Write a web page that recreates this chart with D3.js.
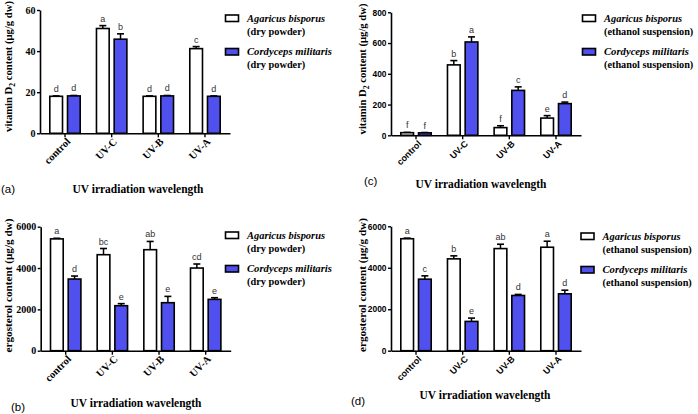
<!DOCTYPE html>
<html><head><meta charset="utf-8">
<script src="https://cdn.jsdelivr.net/npm/d3@7"></script>
<style>body{margin:0;background:#fff}svg{display:block}</style>
</head><body>
<script>
const categories = ["control", "UV-C", "UV-B", "UV-A"];
const seriesNames = ["Agaricus bisporus", "Cordyceps militaris"];

// (a) vitamin D2, dry powder
const vitDDryAgaricus = [18, 51, 18, 41.2];
const vitDDryAgaricusErr = [0.2, 1.4, 0.2, 1.0];
const vitDDryCordyceps = [18.2, 45.8, 18.2, 18];
const vitDDryCordycepsErr = [0.2, 2.6, 0.2, 0.2];
const vitDDryLetters = [["d", "a", "d", "c"], ["d", "b", "d", "d"]];

// (c) vitamin D2, ethanol suspension
const vitDEthAgaricus = [17, 458, 50, 112];
const vitDEthAgaricusErr = [2, 28, 12, 16];
const vitDEthCordyceps = [16, 607, 292, 206];
const vitDEthCordycepsErr = [2, 33, 23, 10];
const vitDEthLetters = [["f", "b", "f", "e"], ["f", "a", "c", "d"]];

// (b) ergosterol, dry powder
const ergDryAgaricus = [5410, 4645, 4887, 4000];
const ergDryAgaricusErr = [30, 300, 400, 195];
const ergDryCordyceps = [3468, 2177, 2323, 2484];
const ergDryCordycepsErr = [145, 100, 305, 80];
const ergDryLetters = [["a", "bc", "ab", "cd"], ["d", "e", "e", "e"]];

// (d) ergosterol, ethanol suspension
const ergEthAgaricus = [5400, 4430, 4925, 4990];
const ergEthAgaricusErr = [30, 145, 210, 290];
const ergEthCordyceps = [3450, 1412, 2663, 2743];
const ergEthCordycepsErr = [160, 160, 50, 175];
const ergEthLetters = [["a", "b", "ab", "a"], ["c", "e", "d", "d"]];

const vitDTicks = [0, 20, 40, 60];
const vitDEthTicks = [0, 200, 400, 600, 800];
const ergTicks = [0, 2000, 4000, 6000];

const SERIF = "'Liberation Serif','Times New Roman',serif";
const SANS = "'Liberation Sans',Arial,sans-serif";
const BLUE = "#5050ee";

const svg = d3.select("body").append("svg").attr("width", 698).attr("height", 414);

// scale a text's font size so that it spans the given width
function fit(sel, target) {
  const n = sel.node();
  const w = n.getComputedTextLength();
  const fs = parseFloat(sel.attr("font-size"));
  if (w > 0) sel.attr("font-size", (fs * target / w).toFixed(2));
  return sel;
}

function panel(o) {
  const g = svg.append("g");
  const x = d3.scaleBand().domain(categories).range([o.ox, o.ox + 190]).paddingInner(0).paddingOuter(0.036);
  const inner = d3.scaleBand().domain(seriesNames).range([-15.2, 15.2]).paddingInner(0.2825).paddingOuter(0);
  const y = d3.scaleLinear().domain([0, o.max]).range([o.y0, o.y1]);
  const tickFont = o.sansTicks ? SANS : SERIF;

  const series = [
    {name: seriesNames[0], vals: o.a, errs: o.ae, fill: "#fff", letters: o.letters[0]},
    {name: seriesNames[1], vals: o.c, errs: o.ce, fill: BLUE, letters: o.letters[1]}
  ];
  series.forEach(s => {
    const data = categories.map((c, i) => ({c, v: s.vals[i], e: s.errs[i], l: s.letters[i]}));
    const cx = d => x(d.c) + x.bandwidth() / 2 + inner(s.name) + inner.bandwidth() / 2;
    g.selectAll(null).data(data).enter().append("line")
      .attr("x1", cx).attr("x2", cx)
      .attr("y1", d => y(d.v)).attr("y2", d => y(d.v + d.e))
      .attr("stroke", "#000").attr("stroke-width", 1.5);
    g.selectAll(null).data(data).enter().append("line")
      .attr("x1", d => cx(d) - 3.5).attr("x2", d => cx(d) + 3.5)
      .attr("y1", d => y(d.v + d.e)).attr("y2", d => y(d.v + d.e))
      .attr("stroke", "#000").attr("stroke-width", 1.6);
    g.selectAll(null).data(data).enter().append("rect")
      .attr("x", d => x(d.c) + x.bandwidth() / 2 + inner(s.name))
      .attr("width", inner.bandwidth())
      .attr("y", d => y(d.v)).attr("height", d => y(0) - y(d.v))
      .attr("fill", s.fill).attr("stroke", "#000").attr("stroke-width", 1.6);
    g.selectAll(null).data(data).enter().append("text")
      .attr("x", cx).attr("y", d => y(d.v + d.e) - 4)
      .attr("text-anchor", "middle").attr("font-family", SANS).attr("font-size", 9)
      .attr("fill", "#333").text(d => d.l);
  });

  const ya = g.append("g").attr("transform", `translate(${o.ox},0)`)
    .call(d3.axisLeft(y).tickValues(o.ticks).tickFormat(d3.format("d")).tickSize(3).tickSizeOuter(0).tickPadding(1.5));
  ya.select(".domain").attr("stroke-width", 1.6);
  ya.selectAll(".tick line").attr("stroke-width", 1.4);
  ya.selectAll("text").attr("font-family", tickFont).attr("font-weight", "bold")
    .attr("font-size", o.sansTicks ? 8.4 : 10).attr("fill", "#000");

  const xa = g.append("g").attr("transform", `translate(0,${o.y0})`)
    .call(d3.axisBottom(x).tickSize(4).tickSizeOuter(0));
  xa.select(".domain").attr("stroke-width", 1.6);
  xa.selectAll(".tick line").attr("stroke-width", 1.4);
  xa.selectAll("text")
    .attr("font-family", tickFont).attr("font-weight", "bold")
    .attr("font-size", o.sansTicks ? 9 : 10.5).attr("fill", "#000")
    .attr("text-anchor", "end").attr("x", 0).attr("y", 0).attr("dy", 0)
    .attr("transform", "translate(6,9) rotate(-45)");

  const yt = g.append("text")
    .attr("transform", `translate(${o.ytx},${o.yty}) rotate(-90)`)
    .attr("text-anchor", "middle").attr("font-family", SERIF).attr("font-weight", "bold")
    .attr("font-size", 11);
  if (o.vitD) {
    yt.append("tspan").text("vitamin D");
    yt.append("tspan").attr("font-size", "0.72em").attr("dy", 3).text("2");
    yt.append("tspan").attr("dy", -3).text(" content (μg/g dw)");
    fit(yt, 131);
  } else {
    yt.text("ergosterol content (μg/g dw)");
    fit(yt, 134);
  }

  fit(g.append("text").attr("x", o.xtx).attr("y", o.xty).attr("text-anchor", "middle")
    .attr("font-family", SERIF).attr("font-weight", "bold").attr("font-size", 11.5)
    .text("UV irradiation wavelength"), 131);

  g.append("text").attr("x", o.plx).attr("y", o.ply).attr("font-family", SANS)
    .attr("font-size", 11.5).text(o.pl);

  series.forEach((s, i) => {
    const ly = o.ly + i * 33.5;
    g.append("rect").attr("x", o.lx).attr("y", ly - 6.5).attr("width", 13).attr("height", 6.5)
      .attr("fill", s.fill).attr("stroke", "#000").attr("stroke-width", 1.6);
    fit(g.append("text").attr("x", o.lx + 21.5).attr("y", ly)
      .attr("font-family", SERIF).attr("font-weight", "bold").attr("font-style", "italic")
      .attr("font-size", 10.5).text(s.name), i === 0 ? 78 : 85);
    fit(g.append("text").attr("x", o.lx + 21.5).attr("y", ly + 13)
      .attr("font-family", SERIF).attr("font-weight", "bold")
      .attr("font-size", 10.5).text(o.legSuffix), o.legW);
  });
}

panel({ox: 40, y0: 133.3, y1: 10, max: 60, ticks: vitDTicks, a: vitDDryAgaricus, ae: vitDDryAgaricusErr,
  c: vitDDryCordyceps, ce: vitDDryCordycepsErr, letters: vitDDryLetters, sansTicks: false, vitD: true,
  ytx: 11.5, yty: 66.5, xtx: 138, xty: 192.5, pl: "(a)", plx: 1, ply: 193, lx: 225.5, ly: 21.5,
  legSuffix: "(dry powder)", legW: 58.3});
panel({ox: 391, y0: 135.3, y1: 12.3, max: 800, ticks: vitDEthTicks, a: vitDEthAgaricus, ae: vitDEthAgaricusErr,
  c: vitDEthCordyceps, ce: vitDEthCordycepsErr, letters: vitDEthLetters, sansTicks: true, vitD: true,
  ytx: 366, yty: 69, xtx: 481, xty: 187.5, pl: "(c)", plx: 364, ply: 184.5, lx: 582.5, ly: 21.5,
  legSuffix: "(ethanol suspension)", legW: 89.3});
panel({ox: 40.7, y0: 350.7, y1: 226.7, max: 6000, ticks: ergTicks, a: ergDryAgaricus, ae: ergDryAgaricusErr,
  c: ergDryCordyceps, ce: ergDryCordycepsErr, letters: ergDryLetters, sansTicks: false, vitD: false,
  ytx: 12, yty: 285.5, xtx: 136, xty: 406.5, pl: "(b)", plx: 11, ply: 411, lx: 225.5, ly: 238.5,
  legSuffix: "(dry powder)", legW: 58.3});
panel({ox: 391, y0: 350.7, y1: 226.3, max: 6000, ticks: ergTicks, a: ergEthAgaricus, ae: ergEthAgaricusErr,
  c: ergEthCordyceps, ce: ergEthCordycepsErr, letters: ergEthLetters, sansTicks: true, vitD: false,
  ytx: 366, yty: 285, xtx: 485, xty: 399, pl: "(d)", plx: 351, ply: 404.5, lx: 581, ly: 239.5,
  legSuffix: "(ethanol suspension)", legW: 89.3});
</script>
</body></html>
